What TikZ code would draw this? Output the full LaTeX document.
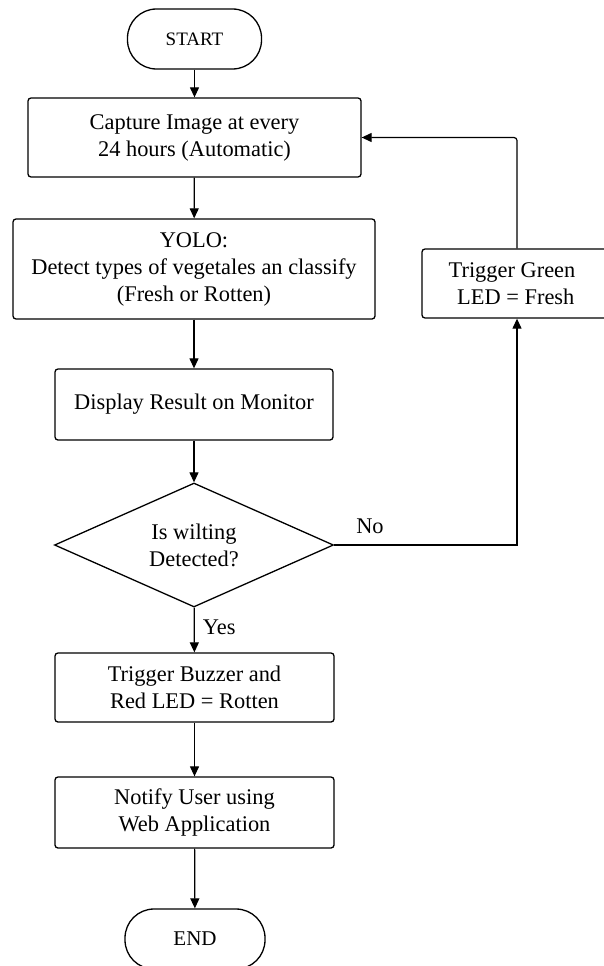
\documentclass[tikz,border=0pt]{standalone}
\usepackage{fontspec}
\setmainfont{Liberation Serif}
\usetikzlibrary{shapes.geometric,arrows.meta}
\begin{document}
\begin{tikzpicture}[x=1pt,y=-1pt,
  every node/.style={font=\fontsize{22.4}{27}\selectfont, align=center, inner sep=0pt},
  procbox/.style={draw, line width=1.3pt, rounded corners=3pt, rectangle},
  term/.style={draw, line width=1.3pt, rectangle, rounded corners=29pt},
  decis/.style={draw, line width=1.3pt, diamond, aspect=2.25},
  conn/.style={line width=1.2pt, -{Triangle[length=10pt,width=9pt]}},
  lbl/.style={font=\fontsize{22.4}{27}\selectfont}
]
\useasboundingbox (0,0) rectangle (603,966);
\node[term, minimum width=134pt, minimum height=60pt, font=\fontsize{19}{23}\selectfont] (start) at (194.5,39) {START};
\node[procbox, minimum width=333pt, minimum height=79pt] (capture) at (194.5,137.5) {Capture Image at every\\ 24 hours (Automatic)};
\node[procbox, minimum width=362pt, minimum height=100pt] (yolo) at (194,269) {YOLO:\\Detect types of vegetales an classify\\(Fresh or Rotten)};
\node[procbox, minimum width=278pt, minimum height=71pt] (display) at (194,404.5) {Display Result on Monitor};
\node[decis, minimum width=279pt, minimum height=124pt] (dec) at (194,545) {Is wilting\\Detected?};
\node[procbox, minimum width=190pt, minimum height=69pt] (green) at (517,283.5) {\hspace*{-10pt}Trigger Green\\\hspace*{-8pt} LED = Fresh};
\node[procbox, minimum width=279pt, minimum height=69pt] (buzzer) at (194.5,687.5) {Trigger Buzzer and\\ Red LED = Rotten};
\node[procbox, minimum width=279pt, minimum height=71pt] (notify) at (194.5,812.5) {Notify User using\\ Web Application};
\node[term, minimum width=140pt, minimum height=60pt, font=\fontsize{21}{25}\selectfont] (end) at (195,939) {END};
\coordinate (c1) at (517,545);
\coordinate (c2) at (517,137.5);
\draw[conn] (start) -- (capture);
\draw[conn] (capture) -- (yolo);
\draw[conn] (yolo) -- (display);
\draw[conn] (display) -- (dec);
\draw[conn] (dec) -- node[lbl, right=8pt, pos=0.45] (yes) {Yes} (buzzer);
\draw[conn] (buzzer) -- (notify);
\draw[conn] (notify) -- (end);
\draw[conn] (dec.east) -- (c1) -- (green.south);
\draw[conn, rounded corners=3pt] (green.north) -- (c2) -- (capture.east);
\node[lbl] (no) at (370,526) {No};
\end{tikzpicture}
\end{document}
